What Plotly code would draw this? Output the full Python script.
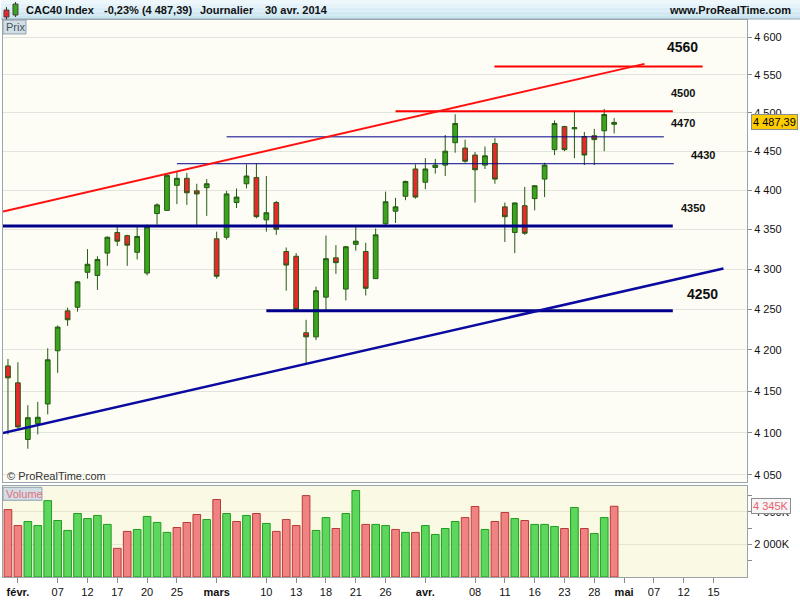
import math
import plotly.graph_objects as go

# ---------------- data ----------------
dates = ["2014-01-31",
         "2014-02-03", "2014-02-04", "2014-02-05", "2014-02-06", "2014-02-07",
         "2014-02-10", "2014-02-11", "2014-02-12", "2014-02-13", "2014-02-14",
         "2014-02-17", "2014-02-18", "2014-02-19", "2014-02-20", "2014-02-21",
         "2014-02-24", "2014-02-25", "2014-02-26", "2014-02-27", "2014-02-28",
         "2014-03-03", "2014-03-04", "2014-03-05", "2014-03-06", "2014-03-07",
         "2014-03-10", "2014-03-11", "2014-03-12", "2014-03-13", "2014-03-14",
         "2014-03-17", "2014-03-18", "2014-03-19", "2014-03-20", "2014-03-21",
         "2014-03-24", "2014-03-25", "2014-03-26", "2014-03-27", "2014-03-28",
         "2014-03-31", "2014-04-01", "2014-04-02", "2014-04-03", "2014-04-04",
         "2014-04-07", "2014-04-08", "2014-04-09", "2014-04-10", "2014-04-11",
         "2014-04-14", "2014-04-15", "2014-04-16", "2014-04-17",
         "2014-04-22", "2014-04-23", "2014-04-24", "2014-04-25",
         "2014-04-28", "2014-04-29", "2014-04-30"]

opens = [4180.5, 4160, 4092, 4111, 4134.5, 4199, 4248, 4252.5, 4296, 4292, 4320,
         4346, 4342, 4321, 4295, 4370, 4374, 4406, 4415, 4399, 4403,
         4338, 4340, 4384, 4408, 4416, 4362, 4384, 4322, 4316, 4221,
         4216, 4265, 4314, 4275, 4331, 4322, 4288, 4357, 4373, 4392,
         4427, 4410, 4429, 4432, 4461, 4454, 4445, 4432, 4460, 4378.5,
         4346, 4380, 4389, 4414, 4452, 4482, 4479, 4469, 4470, 4476.5, 4485]
highs = [4189, 4185, 4133, 4137, 4202, 4230, 4252, 4285, 4325, 4316, 4341,
         4353, 4343, 4353, 4356, 4383, 4420, 4423, 4422, 4408, 4414,
         4347, 4399, 4402, 4433, 4434, 4418, 4386, 4327, 4320, 4237,
         4278, 4342, 4330, 4329, 4353, 4333, 4351, 4398, 4390, 4412,
         4433, 4441, 4440, 4471, 4498, 4465, 4449, 4456, 4467, 4384,
         4384, 4404, 4406, 4435, 4490, 4483, 4503, 4475, 4479, 4505, 4493]
lows = [4098, 4105, 4081, 4098, 4122, 4172, 4229.5, 4247, 4288, 4274, 4304,
        4329, 4304, 4312, 4292, 4356, 4374, 4382, 4381, 4355, 4367,
        4288, 4337, 4377, 4402, 4364, 4347, 4343, 4273, 4248, 4184,
        4212, 4249, 4294, 4261, 4323, 4267, 4288, 4354, 4358, 4387,
        4389, 4401, 4421, 4418, 4448, 4435, 4384, 4427, 4408, 4334,
        4320, 4343, 4374, 4391, 4445, 4450, 4441, 4432, 4432, 4450, 4473]
closes = [4166, 4107, 4118, 4118.5, 4188, 4228, 4237, 4284, 4306, 4312, 4340,
          4335, 4330, 4341, 4353, 4381, 4419, 4415, 4396.5, 4395, 4408,
          4291, 4395, 4391, 4418, 4366, 4371, 4350, 4305, 4250, 4216,
          4273, 4313, 4308, 4328, 4335, 4276, 4343, 4385, 4378.5, 4411,
          4391, 4427, 4432, 4450, 4486, 4437, 4426, 4444, 4414, 4366,
          4383.5, 4345, 4405.5, 4432, 4486, 4452, 4480.5, 4445, 4465, 4497.7, 4487.39]
volumes_k = [4140, 3160, 3410, 3160, 4690, 3470, 2860, 3900, 3590, 3780, 3230,
             1760, 2800, 2920, 3720, 3350, 2740, 3040, 3350, 3840, 3530,
             4760, 3900, 3410, 3780, 3900, 3290, 2800, 3530, 3160, 5000,
             2860, 3650, 2980, 3900, 5310, 3230, 3230, 3160, 2920, 2740,
             2740, 3160, 2610, 2980, 3410, 3650, 4330, 2920, 3410, 3960,
             3590, 3470, 3230, 3230, 3100, 2980, 4270, 2980, 2670, 3650, 4345]

# x-axis tick labels (trading-day index -> label)
tick_pos = [1, 5, 8, 11, 14, 17, 21, 26, 29, 32, 35, 38, 42, 47, 50, 53, 56, 59, 62, 65, 68, 71]
tick_lbl = ["<b>févr.</b>", "07", "12", "17", "20", "25", "<b>mars</b>", "10", "13", "18", "21", "26",
            "<b>avr.</b>", "08", "11", "16", "23", "28", "<b>mai</b>", "07", "12", "15"]

price_ticks = [4050, 4100, 4150, 4200, 4250, 4300, 4350, 4400, 4450, 4500, 4550, 4600]
vol_ticks_k = [2000, 4000]
vol_minor_k = [1000, 3000, 5000]

# drawn horizontal levels: price, start index, end index
level_prices = [4561, 4502, 4468.6, 4433.8, 4354.3, 4248.3]
level_starts = [48.95, 39.0, 22.0, 17.0, -0.5, 26.0]
level_ends = [69.9, 66.9, 66.0, 67.0, 66.9, 66.9]
# drawn trend lines: start/end index and price
trend_x = [[-0.5, 64.05], [-0.5, 72.0]]
trend_y = [[4372.6, 4564.5], [4099.7, 4300.8]]
# level labels
label_text = ["4560", "4500", "4470", "4430", "4350", "4250"]
label_x = [67.9, 67.9, 67.9, 69.9, 68.9, 69.9]
label_y = [4587.5, 4526, 4486.8, 4444.8, 4377, 4269]

header_parts = ["CAC40 Index", "-0,23% (4 487,39)", "Journalier", "30 avr. 2014"]
last_close = 4487.39
last_volume_k = 4345

# ---------------- styles ----------------
FONT = "Liberation Sans, Arial, sans-serif"
level_colors = ["#ff0000", "#ff0000", "#00008b", "#00008b", "#00008b", "#00008b"]
level_widths = [2, 2, 1, 1, 3, 3]
trend_colors = ["#ff1010", "#0a0aa0"]
trend_widths = [2, 2.5]
label_sizes = [14, 11, 11, 11, 11, 14]
header_x = [23, 101, 197, 262]

W, H = 800, 600
ML, MR, MT, MB = 2, 53, 20, 21
PW, PH = W - ML - MR, H - MT - MB


def px(x):
    return (x - ML) / PW


def py(y):
    return (H - MB - y) / PH


idx = list(range(len(dates)))

fig = go.Figure()

fig.add_trace(go.Candlestick(
    x=idx, open=opens, high=highs, low=lows, close=closes,
    increasing=dict(fillcolor="#3aa51c", line=dict(color="#245a12", width=1)),
    decreasing=dict(fillcolor="#e8282c", line=dict(color="#245a12", width=1)),
    whiskerwidth=0, hoverinfo="skip", xaxis="x", yaxis="y", showlegend=False))

for p, s, e, c, w in zip(level_prices, level_starts, level_ends, level_colors, level_widths):
    fig.add_trace(go.Scatter(x=[s, e], y=[p, p], mode="lines", line=dict(color=c, width=w),
                             hoverinfo="skip", showlegend=False, xaxis="x", yaxis="y"))
for tx, ty, c, w in zip(trend_x, trend_y, trend_colors, trend_widths):
    fig.add_trace(go.Scatter(x=tx, y=ty, mode="lines", line=dict(color=c, width=w),
                             hoverinfo="skip", showlegend=False, xaxis="x", yaxis="y"))

# volume colours: up vs previous close
vol_up = []
for i in idx:
    if i == 0:
        vol_up.append(closes[0] >= opens[0])
    else:
        vol_up.append(closes[i] >= closes[i - 1])
vol_fill = ["#5cd65c" if u else "#f08282" for u in vol_up]
vol_line = ["#1f9e1f" if u else "#b83a3a" for u in vol_up]
fig.add_trace(go.Bar(x=idx, y=[v * 1000 for v in volumes_k], width=0.77,
                     marker=dict(color=vol_fill, line=dict(color=vol_line, width=1)),
                     hoverinfo="skip", showlegend=False, xaxis="x2", yaxis="y2"))

shapes = []
annotations = []

# header bar (gradient imitation)
grad = ["#eef8fc", "#e4f3fa", "#dbeef7", "#d2e9f3", "#cbe5f0"]
for k, col in enumerate(grad):
    y0 = k * 19 / len(grad)
    y1 = (k + 1) * 19 / len(grad)
    shapes.append(dict(type="rect", xref="paper", yref="paper", x0=px(0), x1=px(800),
                       y0=py(y1), y1=py(y0), fillcolor=col, line=dict(width=0), layer="above"))
shapes.append(dict(type="line", xref="paper", yref="paper", x0=px(0), x1=px(800), y0=py(19), y1=py(19),
                   line=dict(color="#9aa8b2", width=1)))
# header icon
shapes.append(dict(type="line", xref="paper", yref="paper", x0=px(5.5), x1=px(5.5), y0=py(20), y1=py(7),
                   line=dict(color="#333", width=1)))
shapes.append(dict(type="rect", xref="paper", yref="paper", x0=px(3), x1=px(8), y0=py(17), y1=py(10),
                   fillcolor="#e8282c", line=dict(color="#444", width=1)))
shapes.append(dict(type="line", xref="paper", yref="paper", x0=px(14.5), x1=px(14.5), y0=py(17), y1=py(2),
                   line=dict(color="#333", width=1)))
shapes.append(dict(type="rect", xref="paper", yref="paper", x0=px(12), x1=px(17), y0=py(15), y1=py(4),
                   fillcolor="#3aa51c", line=dict(color="#444", width=1)))

# volume panel background
shapes.append(dict(type="rect", xref="paper", yref="y2 domain", x0=0, x1=1, y0=0, y1=1,
                   fillcolor="#fafae4", line=dict(width=0), layer="below"))

# Prix / Volume boxes
shapes.append(dict(type="rect", xref="paper", yref="paper", x0=px(2), x1=px(25), y0=py(34), y1=py(20),
                   fillcolor="#d3dde4", line=dict(color="#8fa2b0", width=1)))
shapes.append(dict(type="rect", xref="paper", yref="paper", x0=px(2), x1=px(41), y0=py(502), y1=py(489),
                   fillcolor="#d3dde4", line=dict(color="#8fa2b0", width=1)))

for t, hx in zip(header_parts, header_x):
    annotations.append(dict(xref="paper", yref="paper", x=px(hx), y=py(10), xanchor="left", yanchor="middle",
                            text="<b>%s</b>" % t, showarrow=False,
                            font=dict(family=FONT, size=11, color="#111")))
annotations.append(dict(xref="paper", yref="paper", x=px(793), y=py(10), xanchor="right", yanchor="middle",
                        text="<b>www.ProRealTime.com</b>", showarrow=False,
                        font=dict(family=FONT, size=11, color="#111")))
annotations.append(dict(xref="paper", yref="paper", x=px(3.5), y=py(27), xanchor="left", yanchor="middle",
                        text="Prix", showarrow=False, font=dict(family=FONT, size=11, color="#3b5566")))
annotations.append(dict(xref="paper", yref="paper", x=px(3.5), y=py(495.5), xanchor="left", yanchor="middle",
                        text="Volume", showarrow=False, font=dict(family=FONT, size=11, color="#e0707e")))
annotations.append(dict(xref="paper", yref="paper", x=px(4), y=py(478), xanchor="left", yanchor="middle",
                        text="© ProRealTime.com", showarrow=False, font=dict(family=FONT, size=11, color="#333")))

for t, lx, ly, s in zip(label_text, label_x, label_y, label_sizes):
    annotations.append(dict(xref="x", yref="y", x=lx, y=math.log10(ly), xanchor="center", yanchor="middle",
                            text="<b>%s</b>" % t, showarrow=False,
                            font=dict(family=FONT, size=s, color="#111")))

annotations.append(dict(xref="paper", yref="y", x=1, xshift=4, y=math.log10(last_close), xanchor="left",
                        yanchor="middle", text=("%.2f" % last_close).replace(".", ",").replace("4487", "4 487"),
                        showarrow=False, bgcolor="#ffcc00", bordercolor="#8c8c8c", borderwidth=1, borderpad=1,
                        font=dict(family=FONT, size=11, color="#000")))
annotations.append(dict(xref="paper", yref="y2", x=1, xshift=4, y=last_volume_k * 1000, xanchor="left",
                        yanchor="middle", text="4 345K", showarrow=False, bgcolor="#f6f6f6",
                        bordercolor="#8c8c8c", borderwidth=1, borderpad=1,
                        font=dict(family=FONT, size=11, color="#e8606e")))


def fmt_k(v):
    s = "%d" % v
    return (s[:-3] + " " + s[-3:]) if len(s) > 3 else s


dom_main = [py(484), 1]
dom_vol = [0, py(488)]
xr = [-0.5, -0.5 + PW / 9.951]

fig.update_layout(
    width=W, height=H, margin=dict(l=ML, r=MR, t=MT, b=MB),
    paper_bgcolor="#ffffff", plot_bgcolor="#fdfdf5",
    font=dict(family=FONT, size=11, color="#000"),
    showlegend=False, boxgap=0.32,
    shapes=shapes, annotations=annotations,
    xaxis=dict(domain=[0, 1], anchor="y", range=xr, showticklabels=False, ticks="",
               showgrid=False, zeroline=False, showline=True, mirror=True, linecolor="#9aa4ac",
               rangeslider=dict(visible=False), fixedrange=True),
    xaxis2=dict(domain=[0, 1], anchor="y2", range=xr, matches="x", tickmode="array",
                tickvals=tick_pos, ticktext=tick_lbl, ticks="outside", ticklen=5, tickcolor="#8a8a8a",
                showgrid=False, zeroline=False, showline=True, mirror=True, linecolor="#9aa4ac",
                tickfont=dict(family=FONT, size=11, color="#111")),
    yaxis=dict(domain=dom_main, anchor="x", type="log", side="right",
               range=[math.log10(4041.3), math.log10(4623.1)],
               tickmode="array", tickvals=price_ticks, ticktext=[fmt_k(v) for v in price_ticks],
               ticks="outside", ticklen=4, tickcolor="#8a8a8a", showgrid=True, gridcolor="#e4e4de",
               zeroline=False, showline=True, mirror=True, linecolor="#9aa4ac",
               tickfont=dict(family=FONT, size=11, color="#111")),
    yaxis2=dict(domain=dom_vol, anchor="x2", side="right", range=[0, 5.57e6],
                tickmode="array", tickvals=[v * 1000 for v in vol_ticks_k],
                ticktext=[fmt_k(v) + "K" for v in vol_ticks_k],
                ticks="outside", ticklen=4, tickcolor="#8a8a8a", showgrid=True, gridcolor="#e6e6cf",
                minor=dict(tickvals=[v * 1000 for v in vol_minor_k], ticks="outside", ticklen=4,
                           tickcolor="#8a8a8a", showgrid=False),
                zeroline=False, showline=True, mirror=True, linecolor="#9aa4ac",
                tickfont=dict(family=FONT, size=11, color="#111")),
)

fig.write_html("out.html", config={"displayModeBar": False},
               post_script="document.body.style.margin='0';document.body.style.overflow='hidden';")
